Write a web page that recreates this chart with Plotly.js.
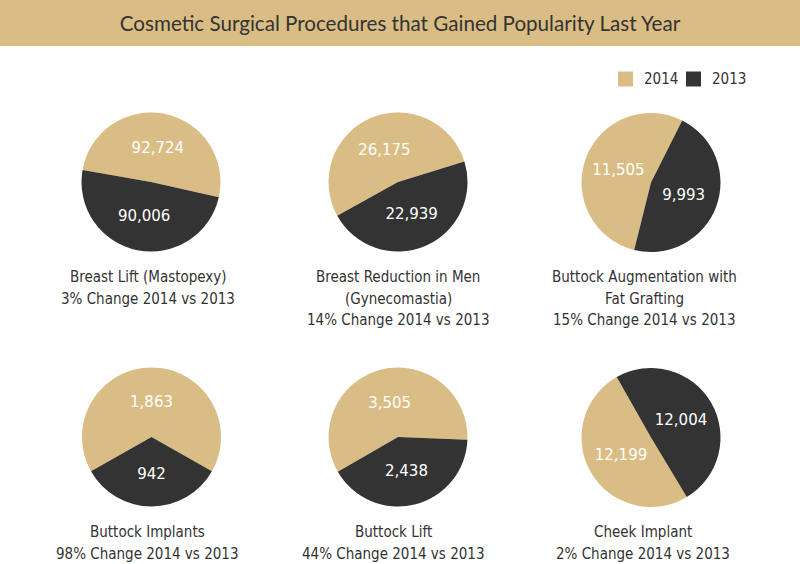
<!DOCTYPE html>
<html>
<head>
<meta charset="utf-8">
<script src="https://cdn.plot.ly/plotly-3.0.1.min.js"></script>
<style>html,body{margin:0;padding:0;background:#fff;}#chart{width:800px;height:564px;}</style>
</head>
<body>
<div id="chart"></div>
<script>
const years = ["2014", "2013"];
const procedures = [["Breast Lift (Mastopexy)"], ["Breast Reduction in Men", "(Gynecomastia)"], ["Buttock Augmentation with", "Fat Grafting"], ["Buttock Implants"], ["Buttock Lift"], ["Cheek Implant"]];
const values2014 = [92724, 26175, 11505, 1863, 3505, 12199];
const values2013 = [90006, 22939, 9993, 942, 2438, 12004];
const changes = ["3%", "14%", "15%", "98%", "44%", "2%"];

const colors = ["#dabd84", "#333333"];
const W = 800, H = 564;
const centers = [[151,182],[398,182],[651,182.5],[151.5,437],[398,437],[651,437.5]];
const R = 69.5;
const rotations = [280, 241, 194, 240.5, 240, 149];

const fmt = v => v.toLocaleString("en-US");
const traces = procedures.map((p, i) => {
  const [cx, cy] = centers[i];
  return {
    type: "pie",
    name: p.join(" "),
    labels: years,
    values: [values2014[i], values2013[i]],
    text: [fmt(values2014[i]), fmt(values2013[i])],
    textinfo: "text",
    textposition: "inside",
    insidetextorientation: "horizontal",
    textfont: {family: "DejaVu Sans, Verdana, sans-serif", size: 15, color: "#ffffff"},
    marker: {colors: colors, line: {width: 0}},
    sort: false,
    direction: "clockwise",
    rotation: rotations[i],
    hoverinfo: "none",
    showlegend: false,
    domain: {x: [(cx - R) / W, (cx + R) / W], y: [1 - (cy + R) / H, 1 - (cy - R) / H]}
  };
});

const capX = [148, 398, 644, 147, 393, 643];
const capY0 = [277, 277, 277, 532, 532, 532];
const lineGap = 21.5;
const capFont = {family: "DejaVu Sans Condensed, DejaVu Sans, sans-serif", size: 15, color: "#333333"};
const annotations = [];
procedures.forEach((p, i) => {
  const lines = p.concat([changes[i] + " Change 2014 vs 2013"]);
  lines.forEach((t, k) => {
    annotations.push({
      xref: "paper", yref: "paper",
      x: capX[i] / W, y: 1 - (capY0[i] + k * lineGap) / H,
      xanchor: "center", yanchor: "middle",
      text: t, showarrow: false, font: capFont
    });
  });
});

// legend drawn as swatches + labels
const legX = [618, 686];
const legY = 79;
const shapes = [{type: "rect", xref: "paper", yref: "paper", x0: 0, x1: 1, y0: 1 - 46 / H, y1: 1, fillcolor: "#dabd84", line: {width: 0}, layer: "below"}];
years.forEach((y, k) => {
  shapes.push({type: "rect", xref: "paper", yref: "paper",
    x0: legX[k] / W, x1: (legX[k] + 15) / W, y0: 1 - (legY + 7.5) / H, y1: 1 - (legY - 7.5) / H,
    fillcolor: colors[k], line: {width: 0}});
  annotations.push({xref: "paper", yref: "paper", x: (legX[k] + 24) / W, y: 1 - legY / H,
    xanchor: "left", yanchor: "middle", text: y, showarrow: false,
    font: {family: "DejaVu Sans Condensed, sans-serif", size: 15, color: "#333333"}});
});

const layout = {
  width: W, height: H,
  margin: {l: 0, r: 0, t: 0, b: 0},
  paper_bgcolor: "#ffffff",
  showlegend: false,
  title: {
    text: "Cosmetic Surgical Procedures that Gained Popularity Last Year",
    x: 0.5, xanchor: "center", y: 1 - 24 / H, yanchor: "middle", yref: "container",
    font: {family: "Lato, sans-serif", size: 20.6, color: "#333333"}
  },
  shapes: shapes,
  annotations: annotations
};

Plotly.newPlot("chart", traces, layout, {displayModeBar: false, staticPlot: true});
</script>
</body>
</html>
